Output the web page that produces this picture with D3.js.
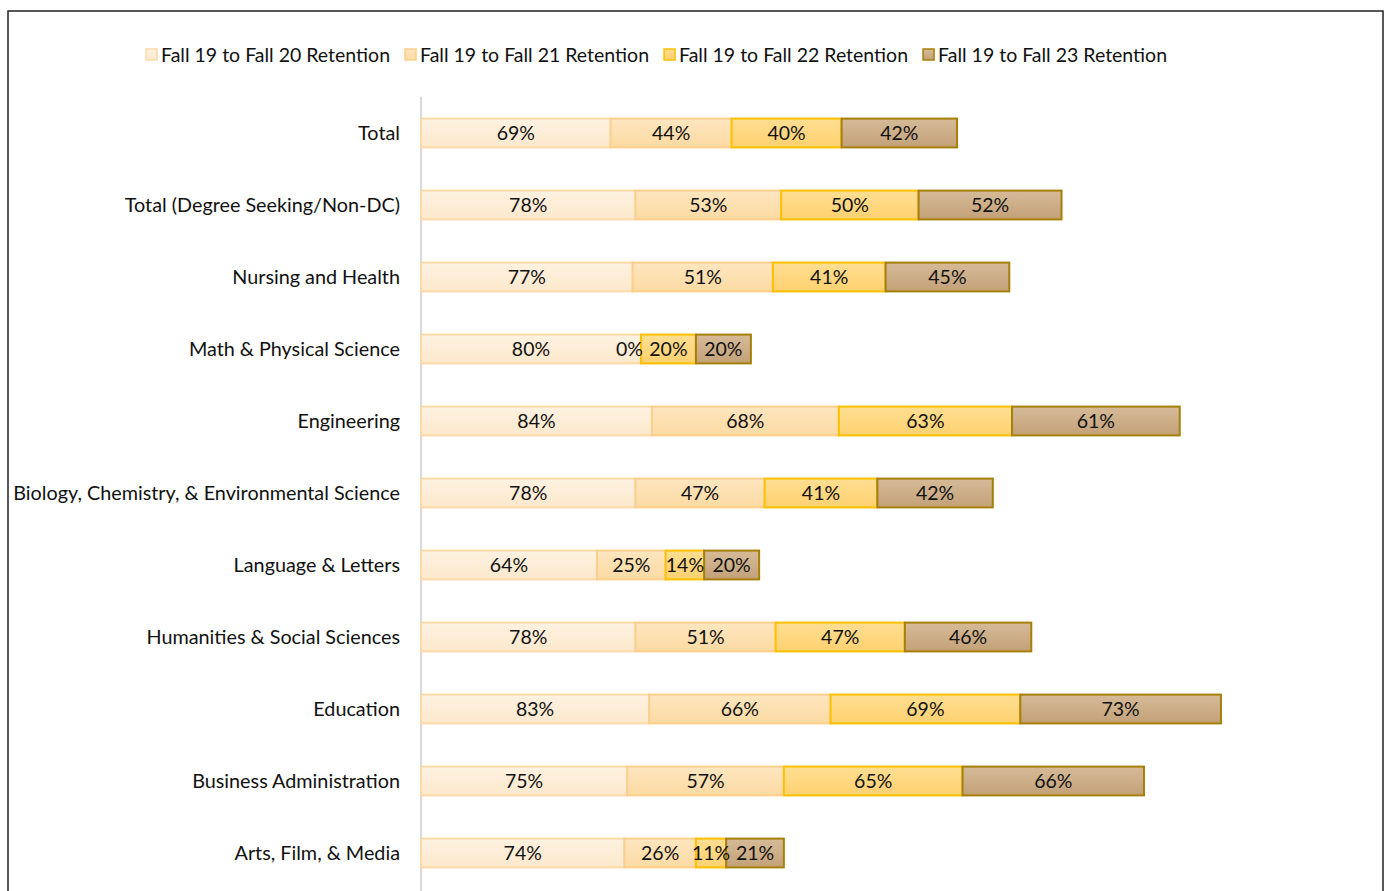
<!DOCTYPE html>
<html><head><meta charset="utf-8">
<script src="https://cdn.jsdelivr.net/npm/d3@7"></script>
<style>body{margin:0;background:#fff;} svg{display:block;}</style>
</head><body>
<svg id="c" width="1390" height="891"></svg>
<script>
const categories = ["Total","Total (Degree Seeking/Non-DC)","Nursing and Health","Math & Physical Science","Engineering","Biology, Chemistry, & Environmental Science","Language & Letters","Humanities & Social Sciences","Education","Business Administration","Arts, Film, & Media"];
const seriesNames = ["Fall 19 to Fall 20 Retention","Fall 19 to Fall 21 Retention","Fall 19 to Fall 22 Retention","Fall 19 to Fall 23 Retention"];
const fall20 = [69,78,77,80,84,78,64,78,83,75,74];
const fall21 = [44,53,51,0,68,47,25,51,66,57,26];
const fall22 = [40,50,41,20,63,41,14,47,69,65,11];
const fall23 = [42,52,45,20,61,42,20,46,73,66,21];
const series = [fall20, fall21, fall22, fall23];

const fills = [["#fef2e1","#fde8cc"],["#fee6c0","#fddaa2"],["#ffde92","#ffd170"],["#d6bb98","#c3a179"]];
const strokes = ["#fbd9a9","#fbcf8d","#ffc000","#a67f07"];
const font = "Lato, 'Open Sans', sans-serif";
const fs = 19.5;

const svg = d3.select("#c");
const defs = svg.append("defs");
fills.forEach((f,i)=>{
  const g = defs.append("linearGradient").attr("id","g"+i).attr("x1",0).attr("y1",0).attr("x2",0).attr("y2",1);
  g.append("stop").attr("offset","0%").attr("stop-color",f[0]);
  g.append("stop").attr("offset","100%").attr("stop-color",f[1]);
});

// outer border
svg.append("rect").attr("x",8).attr("y",11).attr("width",1375).attr("height",900)
  .attr("fill","none").attr("stroke","#222").attr("stroke-width",1.5);

const x = d3.scaleLinear().domain([0,100]).range([421, 421+274.9]);
const y = d3.scaleBand().domain(categories).range([97,889]).paddingInner(0.6).paddingOuter(0.3);

// axis line
svg.append("line").attr("x1",421).attr("x2",421).attr("y1",97).attr("y2",891)
  .attr("stroke","#d9d9d9").attr("stroke-width",2);

const stacked = categories.map((c,ci)=>{
  let acc=0; return series.map((s,si)=>{const v=s[ci]; const r={c,si,v,x0:acc,x1:acc+v}; acc+=v; return r;});
});

const g = svg.append("g");
stacked.forEach(row=>{
  row.forEach(d=>{
    g.append("rect").attr("x",x(d.x0)).attr("y",y(d.c)).attr("width",x(d.x1)-x(d.x0)).attr("height",y.bandwidth())
      .attr("fill",`url(#g${d.si})`).attr("stroke",strokes[d.si]).attr("stroke-width",2);
  });
});
stacked.forEach(row=>{
  row.forEach(d=>{
    const zero = d.v===0;
    g.append("text").attr("x", zero ? x(d.x0)+2 : (x(d.x0)+x(d.x1))/2).attr("y",y(d.c)+y.bandwidth()/2-1)
      .attr("text-anchor", zero ? "end":"middle").attr("dominant-baseline","central")
      .attr("font-family",font).attr("font-size",fs).attr("fill","#111").text(d.v+"%");
  });
});

// category labels
categories.forEach(c=>{
  svg.append("text").attr("x",400).attr("y",y(c)+y.bandwidth()/2-1).attr("text-anchor","end")
    .attr("dominant-baseline","central").attr("font-family",font).attr("font-size",19.8).attr("fill","#111").text(c);
});

// legend
let lx = 145;
const leg = svg.append("g");
seriesNames.forEach((n,i)=>{
  leg.append("rect").attr("x",lx+1).attr("y",49).attr("width",11).attr("height",11)
    .attr("fill",`url(#g${i})`).attr("stroke",strokes[i]).attr("stroke-width",1.5);
  const t = leg.append("text").attr("x",lx+16).attr("y",54.5).attr("dominant-baseline","central")
    .attr("font-family",font).attr("font-size",fs).attr("fill","#111").text(n);
  lx += 16 + t.node().getComputedTextLength() + 14;
});
</script>
</body></html>
